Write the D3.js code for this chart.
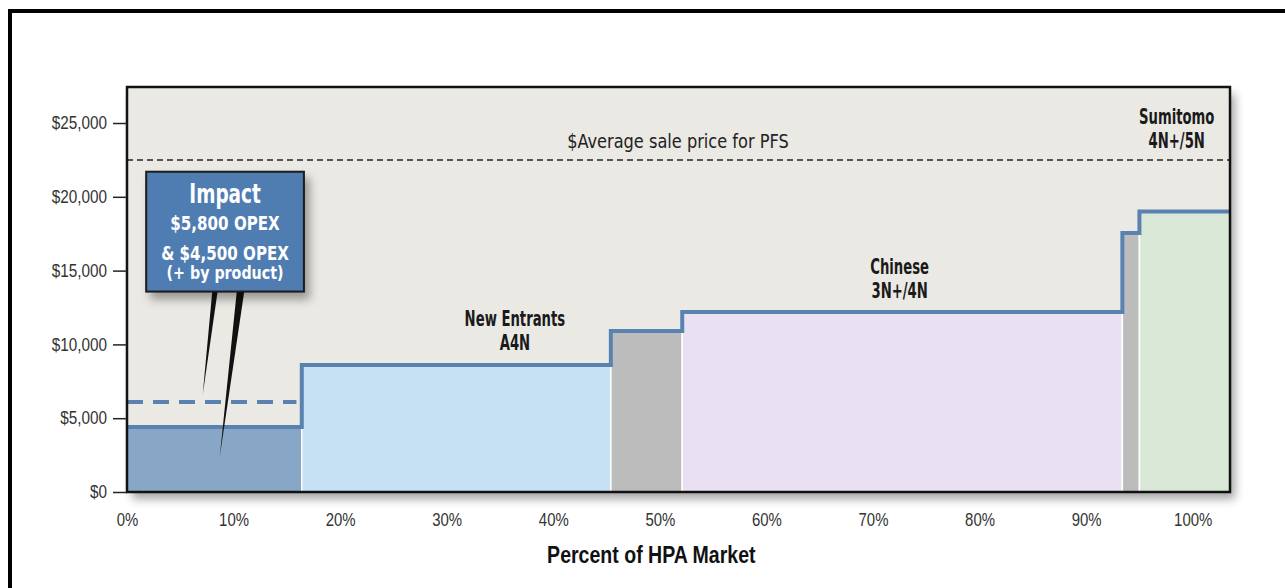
<!DOCTYPE html>
<html>
<head>
<meta charset="utf-8">
<script src="https://cdn.jsdelivr.net/npm/d3@7"></script>
<style>
  body { margin: 0; background: #fff; }
  .cond { font-family: "DejaVu Sans Condensed", "Liberation Sans Narrow", "Roboto Condensed", "Roboto", sans-serif; font-stretch: condensed; }
  .axis text { font-family: "Liberation Sans", Arial, sans-serif; font-size: 18px; fill: #333; }
</style>
</head>
<body>
<svg id="chart"></svg>
<script>
// cost curve segments (percent of market, $/t)
const segNames = ['Impact', 'New Entrants', 'Other 1', 'Chinese', 'Other 2', 'Sumitomo'];
const segStart = [0, 16.4, 45.4, 52.1, 93.4, 95.0];
const segEnd = [16.4, 45.4, 52.1, 93.4, 95.0, 103.5];
const segCost = [4400, 8600, 10900, 12200, 17550, 19000];
const segFill = ['#88a7c7', '#c6e1f3', '#bcbcbc', '#e9e1f1', '#bcbcbc', '#d9e8d6'];

const avgPrice = 22500;       // $Average sale price for PFS
const impactAlt = 6100;       // dashed impact line
const yTicks = [0, 5000, 10000, 15000, 20000, 25000];
const xTicks = [0, 10, 20, 30, 40, 50, 60, 70, 80, 90, 100];

const groupLabels = [
  { lines: ['New Entrants', 'A4N'], x: 36.4, y: 11250 },
  { lines: ['Chinese', '3N+/4N'], x: 72.5, y: 14770 },
  { lines: ['Sumitomo', '4N+/5N'], x: 98.5, y: 24930 }
];

const W = 1285, H = 588;
const margin = { top: 87, right: 55, bottom: 96, left: 127 };
const width = W - margin.left - margin.right;
const height = H - margin.top - margin.bottom;

// squeeze text horizontally (the original uses a condensed face)
function squeeze(sel, sx) {
  sel.each(function () {
    const t = d3.select(this);
    const x0 = +t.attr('x') || 0, y0 = +t.attr('y') || 0;
    t.attr('x', 0).attr('y', 0).attr('transform', `translate(${x0},${y0}) scale(${sx},1)`);
  });
}

const svg = d3.select('#chart').attr('width', W).attr('height', H);

const defs = svg.append('defs');
const sh = defs.append('filter').attr('id', 'shadow')
  .attr('x', '-10%').attr('y', '-10%').attr('width', '130%').attr('height', '130%');
sh.append('feDropShadow').attr('dx', 5).attr('dy', 7).attr('stdDeviation', 5)
  .attr('flood-color', '#000').attr('flood-opacity', 0.35);

// outer frame (cropped on right/bottom)
svg.append('path')
  .attr('d', `M10,${H + 10} V11 H${W + 10}`)
  .attr('fill', 'none').attr('stroke', '#000').attr('stroke-width', 4);

const g = svg.append('g').attr('transform', `translate(${margin.left},${margin.top})`);

const x = d3.scaleLinear().domain([0, 103.5]).range([0, width]);
const y = d3.scaleLinear().domain([0, 27440]).range([height, 0]);

g.append('rect')
  .attr('width', width).attr('height', height)
  .attr('fill', '#ebe9e4')
  .attr('filter', 'url(#shadow)');

// segment fills
g.selectAll('rect.seg')
  .data(segNames)
  .enter()
  .append('rect')
  .attr('class', 'seg')
  .attr('x', (d, i) => x(segStart[i]))
  .attr('y', (d, i) => y(segCost[i]))
  .attr('width', (d, i) => x(segEnd[i]) - x(segStart[i]))
  .attr('height', (d, i) => height - y(segCost[i]))
  .attr('fill', (d, i) => segFill[i])
  .attr('stroke', '#fff')
  .attr('stroke-width', 1.5);

// average sale price line
g.append('line')
  .attr('x1', 0).attr('x2', width)
  .attr('y1', y(avgPrice)).attr('y2', y(avgPrice))
  .attr('stroke', '#222').attr('stroke-width', 1.5)
  .attr('stroke-dasharray', '6,4');

g.append('text')
  .attr('class', 'cond')
  .attr('x', x(51.7)).attr('y', y(avgPrice) - 12)
  .attr('text-anchor', 'middle')
  .attr('font-size', 20).attr('fill', '#222')
  .text('$Average sale price for PFS')
  .call(squeeze, 0.9);

// dashed impact line
g.append('line')
  .attr('x1', 0).attr('x2', x(15.9))
  .attr('y1', y(impactAlt)).attr('y2', y(impactAlt))
  .attr('stroke', '#5a82b0').attr('stroke-width', 4)
  .attr('stroke-dasharray', '16,10');

// step line
const steps = [];
segNames.forEach((d, i) => {
  steps.push([segStart[i], segCost[i]]);
  steps.push([segEnd[i], segCost[i]]);
});
g.append('path')
  .datum(steps)
  .attr('fill', 'none')
  .attr('stroke', '#5a82b0')
  .attr('stroke-width', 4)
  .attr('d', d3.line().x(d => x(d[0])).y(d => y(d[1])));

// group labels
groupLabels.forEach(l => {
  l.lines.forEach((s, j) => {
    g.append('text')
      .attr('class', 'cond')
      .attr('x', x(l.x)).attr('y', y(l.y) + j * 24)
      .attr('text-anchor', 'middle')
      .attr('font-size', 21).attr('font-weight', 'bold').attr('fill', '#1a1a1a')
      .text(s)
      .call(squeeze, 0.7);
  });
});

// plot border
g.append('rect')
  .attr('width', width).attr('height', height)
  .attr('fill', 'none').attr('stroke', '#111').attr('stroke-width', 2.5);

// axes
const yAxis = g.append('g').attr('class', 'axis')
  .call(d3.axisLeft(y).tickValues(yTicks).tickSize(14).tickPadding(6)
    .tickFormat(d => '$' + d3.format(',')(d)));
yAxis.select('.domain').remove();
yAxis.selectAll('.tick line').attr('stroke', '#222').attr('stroke-width', 1.5);
yAxis.selectAll('.tick text').call(squeeze, 0.85);

const xAxis = g.append('g').attr('class', 'axis')
  .attr('transform', `translate(0,${height})`)
  .call(d3.axisBottom(x).tickValues(xTicks).tickSize(0).tickPadding(21)
    .tickFormat(d => d + '%'));
xAxis.select('.domain').remove();
xAxis.selectAll('.tick text').call(squeeze, 0.83);

svg.append('text')
  .attr('x', margin.left + x(49.2)).attr('y', 563)
  .attr('text-anchor', 'middle')
  .attr('font-family', '"Liberation Sans", Arial, sans-serif')
  .attr('font-size', 23).attr('font-weight', 'bold').attr('fill', '#111')
  .text('Percent of HPA Market')
  .call(squeeze, 0.85);

// impact callout
const box = { x0: 1.8, x1: 16.6, y0: 21700, y1: 13580 };
const pointers = [
  { b0: 8.0, b1: 8.5, tx: 7.1, ty: 6570 },
  { b0: 10.3, b1: 11.0, tx: 8.7, ty: 2370 }
];
pointers.forEach(p => {
  g.append('path')
    .attr('d', `M${x(p.b0)},${y(box.y1)} L${x(p.b1)},${y(box.y1)} L${x(p.tx)},${y(p.ty)} Z`)
    .attr('fill', '#111');
});
g.append('rect')
  .attr('x', x(box.x0)).attr('y', y(box.y0))
  .attr('width', x(box.x1) - x(box.x0)).attr('height', y(box.y1) - y(box.y0))
  .attr('fill', '#4f7db1').attr('stroke', '#1a1a1a').attr('stroke-width', 2)
  .attr('filter', 'url(#shadow)');

const cx = (x(box.x0) + x(box.x1)) / 2;
const boxLines = [
  { s: 'Impact', size: 27, sx: 0.76, dy: 31 },
  { s: '$5,800 OPEX', size: 20, sx: 0.84, dy: 58 },
  { s: '& $4,500 OPEX', size: 20, sx: 0.84, dy: 88 },
  { s: '(+ by product)', size: 18, sx: 0.88, dy: 107 }
];
boxLines.forEach(b => {
  g.append('text')
    .attr('class', 'cond')
    .attr('x', cx).attr('y', y(box.y0) + b.dy)
    .attr('text-anchor', 'middle')
    .attr('font-size', b.size).attr('font-weight', 'bold').attr('fill', '#fff')
    .text(b.s)
    .call(squeeze, b.sx);
});
</script>
</body>
</html>
